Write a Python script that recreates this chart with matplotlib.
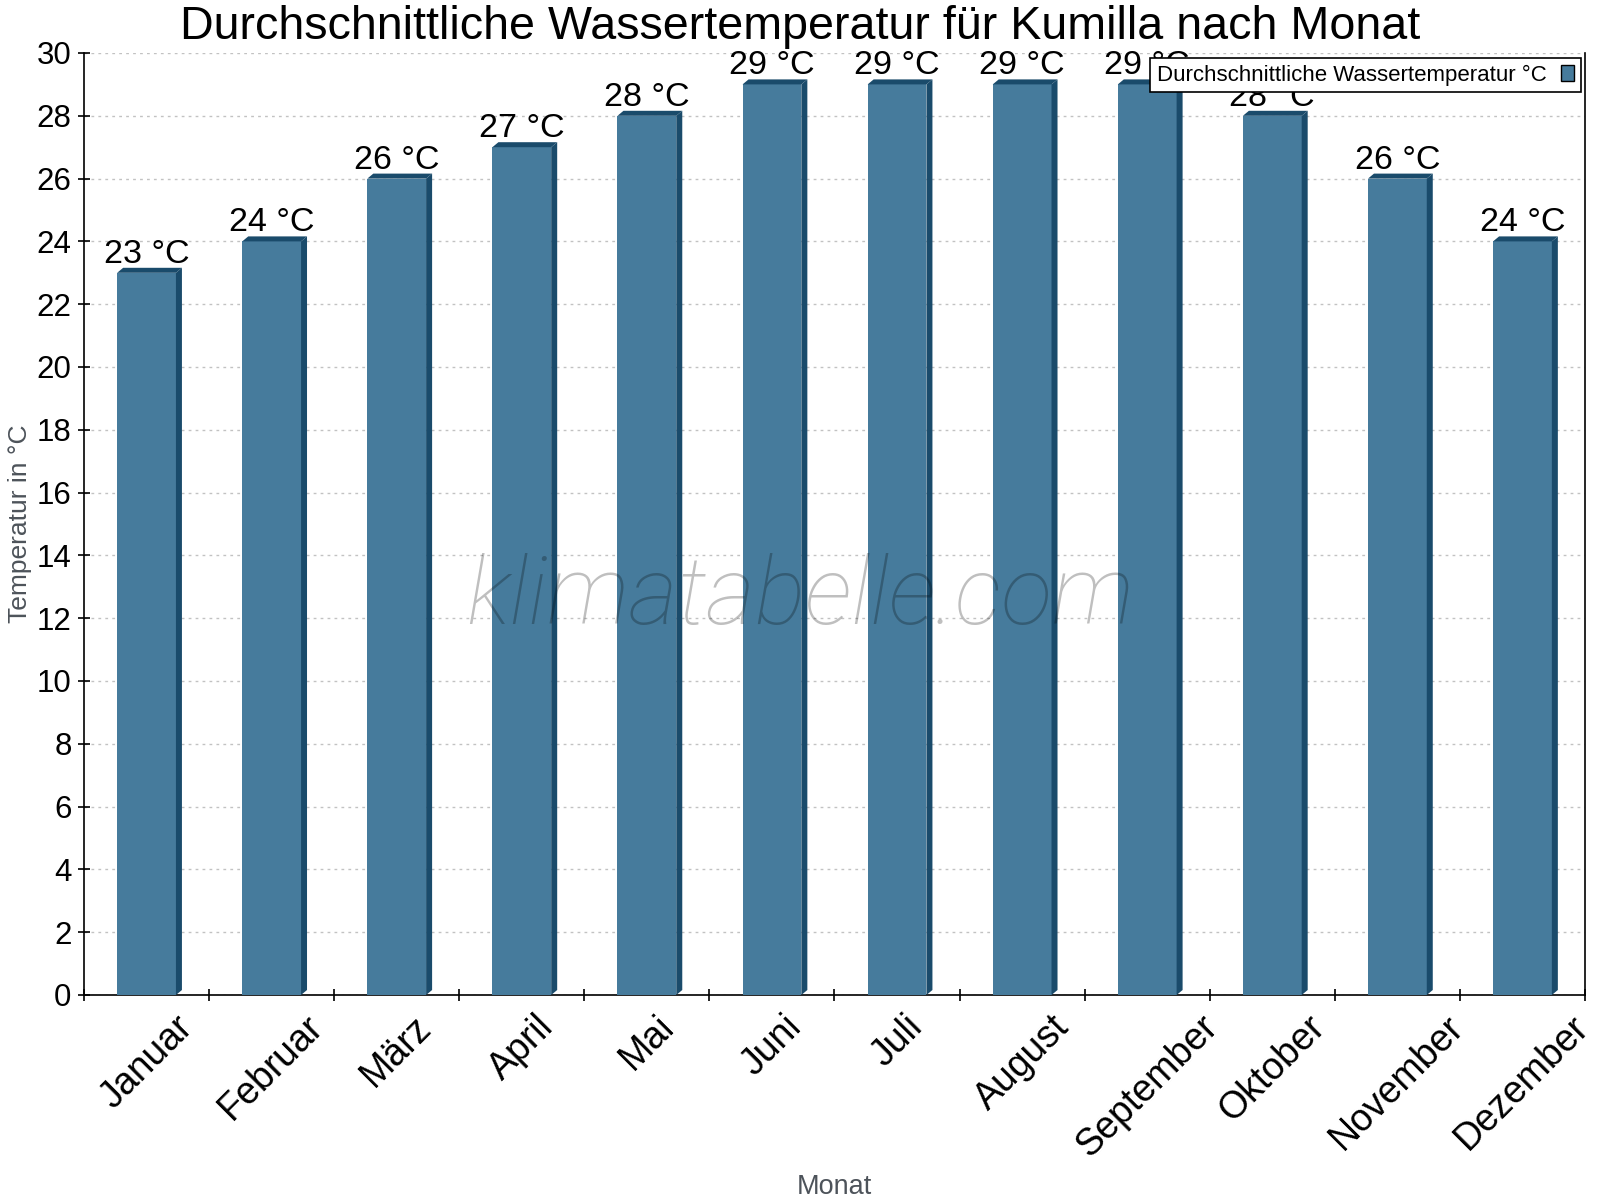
import matplotlib
matplotlib.use("Agg")
import matplotlib.pyplot as plt
from matplotlib.patches import Polygon, Patch
from matplotlib.ticker import FixedLocator, MultipleLocator

months = ["Januar", "Februar", "März", "April", "Mai", "Juni", "Juli",
          "August", "September", "Oktober", "November", "Dezember"]
water_temp = [23, 24, 26, 27, 28, 29, 29, 29, 29, 28, 26, 24]
value_labels = [f"{v} °C" for v in water_temp]

title = "Durchschnittliche Wassertemperatur für Kumilla nach Monat"
series_name = "Durchschnittliche Wassertemperatur °C"
y_label = "Temperatur in °C"
x_label = "Monat"
watermark = "klimatabelle.com"

FRONT = "#467b9c"
DARK = "#1a4b6b"
TEXT_GRAY = "#4d535a"

plt.rcParams['font.family'] = ['Liberation Sans', 'DejaVu Sans']

W, H = 1600, 1200
fig = plt.figure(figsize=(16, 12), dpi=100)
left, right, top, bottom = 84, 1585, 53, 995
ax = fig.add_axes([left / W, 1 - bottom / H, (right - left) / W, (bottom - top) / H])

n = len(months)
xs = list(range(n))
bar_w = 0.47
ax.set_xlim(-0.5, n - 0.5)
ax.set_ylim(0, 30)

# 3D depth in pixels converted to data units
px_per_x = (right - left) / n
px_per_y = (bottom - top) / 30
dx = 6 / px_per_x
dy = 5 / px_per_y

bars = ax.bar(xs, water_temp, width=bar_w, color=FRONT, zorder=3, linewidth=0)
for x, v in zip(xs, water_temp):
    x0, x1 = x - bar_w / 2, x + bar_w / 2
    ax.add_patch(Polygon([(x0, v), (x1, v), (x1 + dx, v + dy), (x0 + dx, v + dy)],
                         closed=True, facecolor=DARK, edgecolor='none', zorder=3))
    ax.add_patch(Polygon([(x1, 0), (x1, v), (x1 + dx, v + dy), (x1 + dx, dy)],
                         closed=True, facecolor=DARK, edgecolor='none', zorder=3))

for x, v, lab in zip(xs, water_temp, value_labels):
    ax.annotate(lab, (x, v), xytext=(0, 7.2), textcoords='offset points',
                ha='center', va='baseline', fontsize=24.5, color='black', zorder=5)

# grid
ax.yaxis.set_major_locator(MultipleLocator(2))
ax.grid(axis='y', color='#c2c2c2', linestyle=(0, (2, 3)), linewidth=1, zorder=0)
ax.set_axisbelow(True)

# spines
ax.spines['top'].set_visible(False)
for s in ['left', 'bottom', 'right']:
    ax.spines[s].set_color('black')
    ax.spines[s].set_linewidth(1.2)

# ticks
ax.set_xticks(xs)
ax.set_xticklabels(months, rotation=45, ha='center', va='top', fontsize=27)
ax.tick_params(axis='x', which='major', length=0, pad=10)
ax.xaxis.set_minor_locator(FixedLocator([i - 0.5 for i in range(n + 1)]))
ax.tick_params(axis='x', which='minor', direction='inout', length=9, width=1.2, color='black')
ax.tick_params(axis='y', which='major', direction='inout', length=8, width=1.2,
               labelsize=22.5, pad=5)
ax.tick_params(axis='y', right=False)

# axis labels / title
fig.text(20 / W, 1 - (top + bottom) / 2 / H, y_label, rotation=90, ha='center', va='center',
         fontsize=19, color=TEXT_GRAY)
fig.text((left + right) / 2 / W, 1 - 1194 / H, x_label, ha='center', va='baseline',
         fontsize=19.5, color=TEXT_GRAY)
fig.text(0.5, 1 - 39 / H, title, ha='center', va='baseline', fontsize=33.6, color='black')

# watermark
fig.text(0.5, 1 - 624 / H, watermark, ha='center', va='baseline', fontsize=68,
         family=['Roboto', 'DejaVu Sans'], fontweight='light', style='italic',
         color='black', alpha=0.25, zorder=10)

# legend
handle = Patch(facecolor=FRONT, edgecolor='black', linewidth=1)
leg = ax.legend([handle], [series_name], loc='upper right',
                bbox_to_anchor=(1581 / W, 1 - 58 / H), bbox_transform=fig.transFigure,
                fontsize=16, markerfirst=False, fancybox=False, framealpha=1,
                edgecolor='black', borderpad=0.3, handlelength=0.62, handleheight=0.75,
                handletextpad=0.62, borderaxespad=0)
leg.get_frame().set_linewidth(1.2)
leg.set_zorder(20)

fig.savefig("out.png", dpi=100)
